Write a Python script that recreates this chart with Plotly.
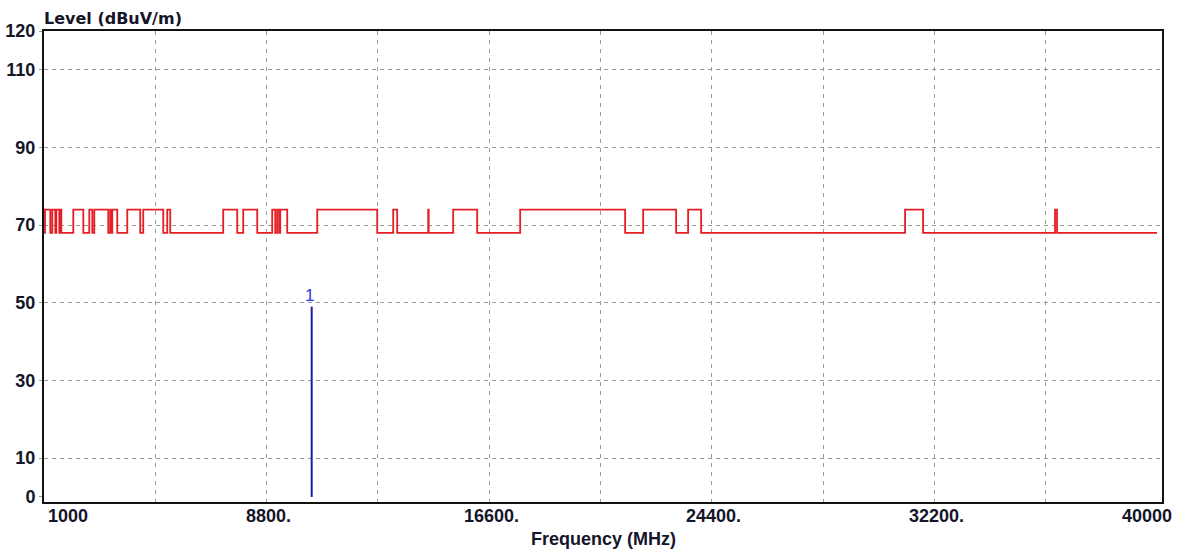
import plotly.graph_objects as go

# ---------------- data ----------------
limit_freq_mhz = [1000, 1035, 1221, 1291, 1396, 1431, 1536, 1571, 1606, 2026, 2377, 2587,
                  2692, 2762, 3252, 3322, 3357, 3392, 3567, 3918, 4373, 4478, 5179, 5319,
                  5424, 7280, 7771, 7981, 8472, 8997, 9102, 9172, 9242, 9278, 9523, 10574,
                  12676, 13236, 13376, 14462, 14480, 15338, 16179, 17685, 21363, 21994,
                  23150, 23570, 24026, 31172, 31803, 36427, 36497, 40000]
limit_level = [68, 74, 68, 74, 68, 74, 68, 74, 68, 74, 68, 74,
               68, 74, 68, 74, 68, 74, 68, 74, 68, 74, 68, 74,
               68, 74, 68, 74, 68, 74, 68, 74, 68, 74, 68, 74,
               68, 74, 68, 74, 68, 74, 68, 74, 68, 74,
               68, 74, 68, 74, 68, 74, 68, 68]

marker_freq_mhz = [10380]
marker_level = [49.0]
marker_label = ["1"]

y_tick_vals = [0, 10, 30, 50, 70, 90, 110, 120]
y_tick_text = ["0", "10", "30", "50", "70", "90", "110", "120"]
y_grid_vals = [10, 30, 50, 70, 90, 110]
x_grid_vals = [4900, 8800, 12700, 16600, 20500, 24400, 28300, 32200, 36100]
x_label_vals = [1000, 8800, 16600, 24400, 32200, 40000]
x_label_text = ["1000", "8800.", "16600.", "24400.", "32200.", "40000"]

# ---------------- figure ----------------
FONT = "Liberation Sans, Arial, sans-serif"
TXT = "#15152a"

fig = go.Figure()
fig.add_trace(go.Scatter(
    x=limit_freq_mhz, y=limit_level, mode="lines", line_shape="hv",
    line=dict(color="#e41e24", width=1.8), hoverinfo="skip", showlegend=False))

for f, lv, lab in zip(marker_freq_mhz, marker_level, marker_label):
    fig.add_trace(go.Scatter(
        x=[f, f], y=[0, lv], mode="lines",
        line=dict(color="#1c1ca8", width=2), hoverinfo="skip", showlegend=False))
    fig.add_annotation(x=f, y=lv, text=lab, showarrow=False, xanchor="center",
                       yanchor="bottom", yshift=0, xshift=-2,
                       font=dict(family=FONT, size=17, color="#2a3ae0"))

for v, t in zip(x_label_vals, x_label_text):
    if v == x_label_vals[0]:
        xa, xs = "left", 2
    elif v == x_label_vals[-1]:
        xa, xs = "center", -10
    else:
        xa, xs = "center", 2
    fig.add_annotation(x=v, xref="x", y=0, yref="paper", text=t, showarrow=False,
                       xanchor=xa, yanchor="top", xshift=xs, yshift=-2,
                       font=dict(family=FONT, size=18, color=TXT, weight="bold"))

fig.add_annotation(x=0, xref="paper", y=1, yref="paper", text="Level (dBuV/m)",
                   showarrow=False, xanchor="left", yanchor="bottom", yshift=1, xshift=-2,
                   font=dict(family="DejaVu Sans, sans-serif", size=16, color=TXT, weight="bold"))
fig.add_annotation(x=0.5, xref="paper", y=0, yref="paper", text="Frequency (MHz)",
                   showarrow=False, xanchor="center", yanchor="top", yshift=-25,
                   font=dict(family=FONT, size=18, color=TXT, weight="bold"))

fig.update_layout(
    width=1185, height=553,
    margin=dict(l=44, r=23, t=31, b=51, autoexpand=False),
    paper_bgcolor="white", plot_bgcolor="white",
    xaxis=dict(range=[1000, 40175], showticklabels=False, ticks="", automargin=False,
               tickmode="array", tickvals=x_grid_vals,
               showgrid=True, gridcolor="#9a9a9a", gridwidth=1, griddash="4px,5px",
               zeroline=False, showline=True, linecolor="#111", linewidth=2, mirror=True),
    yaxis=dict(range=[-1.3, 120], tickmode="array", tickvals=y_tick_vals, ticktext=y_tick_text,
               automargin=False,
               showgrid=False, ticks="outside", ticklen=3, tickcolor="#9a9a9a",
               tickfont=dict(family=FONT, size=18, color=TXT, weight="bold"),
               minor=dict(tickmode="array", tickvals=y_grid_vals, showgrid=True,
                          gridcolor="#9a9a9a", gridwidth=1, griddash="4px,4px", ticks=""),
               zeroline=False, showline=True, linecolor="#111", linewidth=2, mirror=True),
)

fig.write_html("out.html", config={"displayModeBar": False},
               post_script="document.body.style.margin='0';document.body.style.overflow='hidden';")
